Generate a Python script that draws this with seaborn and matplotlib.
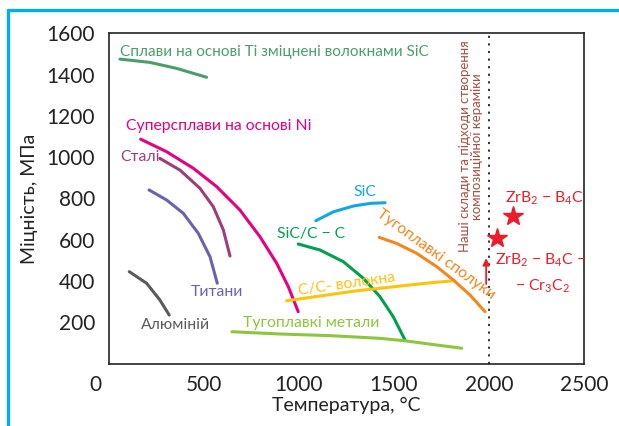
import matplotlib
matplotlib.use("Agg")
import matplotlib.pyplot as plt
import seaborn as sns
import pandas as pd
from matplotlib.lines import Line2D
from matplotlib.transforms import ScaledTranslation

# curves: temperature (°C) vs strength (MPa)
ti_sic_x = [58, 216, 356, 514]
ti_sic_y = [1475, 1459, 1430, 1387]
ni_x = [167, 304, 444, 567, 689, 795, 883, 944, 996]
ni_y = [1087, 1026, 946, 857, 744, 614, 485, 372, 251]
steel_x = [268, 374, 479, 549, 602, 637]
steel_y = [994, 937, 849, 760, 647, 521]
titan_x = [211, 304, 391, 470, 532, 570]
titan_y = [841, 792, 728, 631, 517, 389]
alum_x = [107, 198, 268, 317]
alum_y = [445, 389, 308, 235]
sic_x = [1089, 1181, 1286, 1374, 1453]
sic_y = [692, 735, 763, 776, 779]
sicc_x = [996, 1111, 1234, 1339, 1426, 1496, 1558]
sicc_y = [579, 550, 493, 413, 324, 227, 114]
cc_x = [935, 1300, 1689, 1816]
cc_y = [304, 352, 391, 401]
refmet_x = [647, 900, 1163, 1426, 1558, 1689, 1856]
refmet_y = [154, 143, 135, 122, 110, 94, 74]
refcomp_x = [1423, 1514, 1619, 1725, 1812, 1900, 1979]
refcomp_y = [611, 582, 534, 469, 405, 332, 251]

star_x = [2125, 2044]
star_y = [715, 607]
arrow_x = [1985, 1985]
arrow_y = [372, 524]
limit_x = 2000

x_ticks = [0, 500, 1000, 1500, 2000, 2500]
y_ticks = [200, 400, 600, 800, 1000, 1200, 1400, 1600]

curves = [
    (ti_sic_x, ti_sic_y, "#4a9e6c"),
    (ni_x, ni_y, "#e6007e"),
    (steel_x, steel_y, "#9c3f78"),
    (titan_x, titan_y, "#6a62b0"),
    (alum_x, alum_y, "#5a5a5a"),
    (sic_x, sic_y, "#12a6e2"),
    (sicc_x, sicc_y, "#00a04f"),
    (cc_x, cc_y, "#fcc30f"),
    (refmet_x, refmet_y, "#8cc63f"),
    (refcomp_x, refcomp_y, "#f5861f"),
]

sns.set_style("white")
plt.rcParams['font.family'] = ['Lato', 'DejaVu Sans']
plt.rcParams['mathtext.default'] = 'regular'

fig = plt.figure(figsize=(6.19, 4.26), dpi=100)
ax = fig.add_axes([0.176, 0.1467, 0.7675, 0.7751])

for xs, ys, c in curves:
    d = pd.DataFrame({"T": xs, "S": ys})
    sns.lineplot(data=d, x="T", y="S", sort=False, estimator=None,
                 color=c, lw=2.2, ax=ax)
for ln in ax.lines:
    ln.set_solid_joinstyle("round")

ax.axvline(limit_x, color="#222222", lw=1.3, ls=(0, (1.2, 3)))
red = "#ec1c2a"
ax.plot(star_x, star_y, ls="none", marker="*", ms=15, color=red)
ax.annotate("", xy=(arrow_x[1], arrow_y[1]), xytext=(arrow_x[0], arrow_y[0]),
            arrowprops=dict(arrowstyle="-|>", color=red, lw=1.3,
                            mutation_scale=10))

fs = 11.3
ax.text(60, 1510, "Сплави на основі Ti зміцнені волокнами SiC",
        color="#4a9e6c", fontsize=11, va="center")
ax.text(88, 1151, "Суперсплави на основі Ni", color="#e6007e",
        fontsize=fs, va="center")
ax.text(58, 1000, "Сталі", color="#9c3f78", fontsize=fs, va="center")
ax.text(432, 348, "Титани", color="#6a62b0", fontsize=fs, va="center")
ax.text(167, 187, "Алюміній", color="#5a5a5a", fontsize=fs, va="center")
ax.text(707, 197, "Тугоплавкі метали", color="#8cc63f", fontsize=fs,
        va="center")
ax.text(1347, 829, "SiC", color="#12a6e2", fontsize=fs, ha="center",
        va="center")
ax.text(883, 626, "SiC/C − C", color="#00a04f", fontsize=fs, va="center")
ax.text(1251, 382, "C/C- волокна", color="#fcc30f", fontsize=fs,
        ha="center", va="center", rotation=8)
ax.text(1722, 528, "Тугоплавкі сполуки", color="#f5861f", fontsize=fs,
        ha="center", va="center", rotation=-36)
ax.text(1905, 1053, "Наші склади та підходи створення\nкомпозиційної кераміки",
        color="#a4503f", fontsize=9.5, ha="center", va="center",
        rotation=90, linespacing=1.0)
ax.text(2084, 800, "ZrB$_2$ − B$_4$C", color=red, fontsize=fs, va="center")
ax.text(2032, 498, "ZrB$_2$ − B$_4$C −", color=red, fontsize=fs, va="center")
ax.text(2137, 372, "− Cr$_3$C$_2$", color=red, fontsize=fs, va="center")

ax.set_xlim(0, 2500)
ax.set_ylim(0, 1600)
ax.set_xticks(x_ticks)
ax.set_yticks(y_ticks)
ax.tick_params(axis="x", direction="in", length=7, width=1.1,
               color="#333333", labelsize=15, pad=8, labelcolor="#222222")
ax.tick_params(axis="y", direction="in", length=7, width=1.1,
               color="#2a9d55", labelsize=15, pad=10, labelcolor="#222222")
for s in ax.spines.values():
    s.set_color("#222222")
    s.set_linewidth(1.2)
ax.set_xlabel("Температура, °C", fontsize=14, color="#222222", labelpad=2)
ax.set_ylabel("Міцність, МПа", fontsize=14, color="#222222", labelpad=6)

# origin label sits slightly left of the spine
lbl = ax.get_xticklabels()[0]
lbl.set_transform(lbl.get_transform() +
                  ScaledTranslation(-0.14, 0, fig.dpi_scale_trans))

# light blue frame on the left and top
blue = "#00aeef"
fig.add_artist(Line2D([8 / 619, 8 / 619], [0, 1 - 10 / 426], color=blue,
                      lw=2.4, transform=fig.transFigure))
fig.add_artist(Line2D([8 / 619, 1], [1 - 10 / 426, 1 - 10 / 426], color=blue,
                      lw=2.4, transform=fig.transFigure))

fig.savefig("out.png", dpi=100)
